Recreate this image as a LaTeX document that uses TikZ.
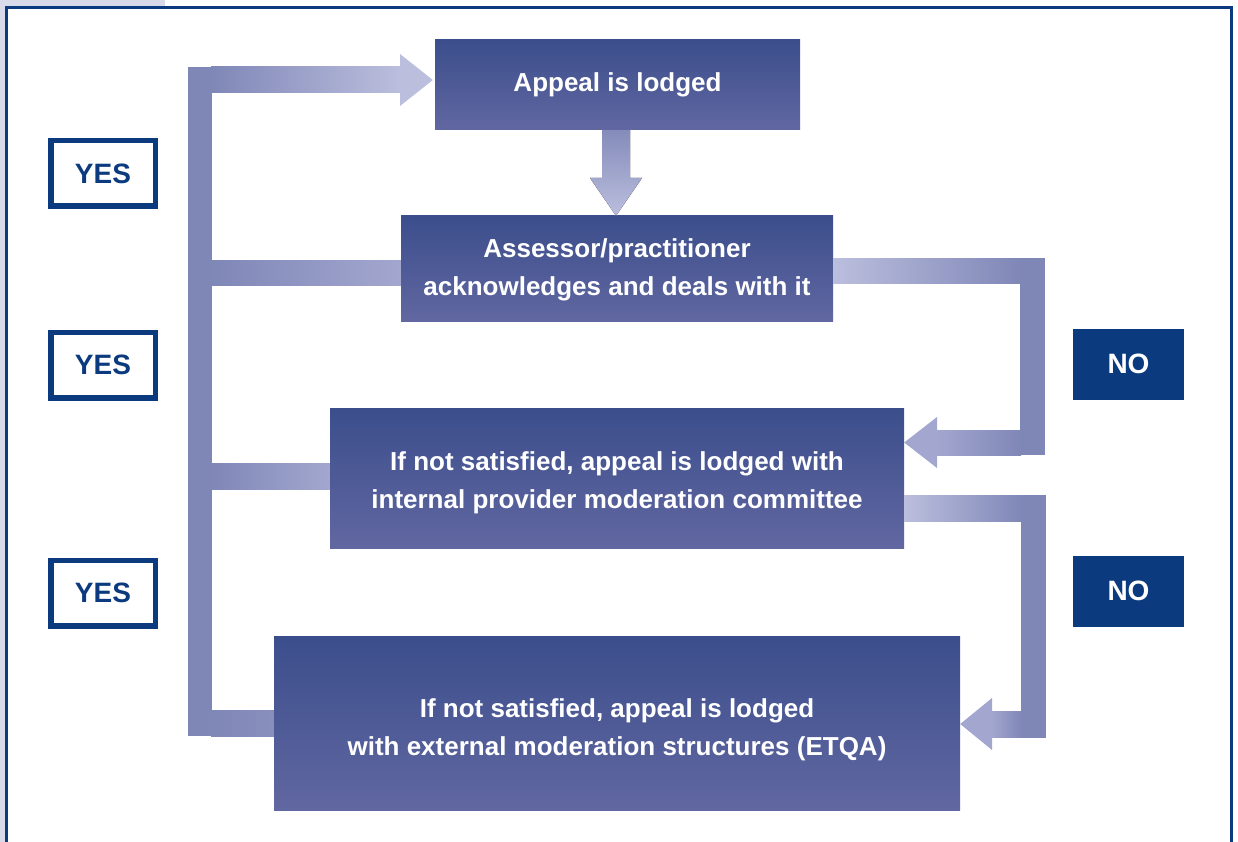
\documentclass[tikz,border=0pt]{standalone}
\usepackage{fontspec}
\setmainfont{Liberation Sans}
\usetikzlibrary{calc}
\definecolor{navy}{HTML}{0B3A7F}
\definecolor{lav}{HTML}{D8DAEA}
\definecolor{boxtop}{HTML}{3B4E8C}
\definecolor{boxbot}{HTML}{6167A1}
\definecolor{ardark}{HTML}{7F87B7}
\definecolor{armid}{HTML}{A3A7CF}
\definecolor{arlight}{HTML}{BBBEDD}
\begin{document}
\begin{tikzpicture}[x=1pt,y=-1pt,
  stage/.style={rectangle, inner sep=0pt, top color=boxtop, bottom color=boxbot,
    text=white, align=center, font=\fontsize{26}{38}\selectfont\bfseries},
  stagetext/.style={inner sep=0pt, text=white, align=center,
    font=\fontsize{26}{38}\selectfont\bfseries},
  yesbox/.style={rectangle, draw=navy, line width=5.5pt, fill=white,
    minimum width=104.5pt, minimum height=65.5pt, text=navy,
    font=\fontsize{28}{30}\selectfont\bfseries},
  nobox/.style={rectangle, fill=navy, minimum width=111pt, minimum height=71pt,
    text=white, font=\fontsize{28}{30}\selectfont\bfseries},
]
\useasboundingbox (0,0) rectangle (1238,842);

% page backdrop and frame
\fill[lav] (0,0) rectangle (165,7);
\fill[lav] (0,0) rectangle (4.5,842);
\draw[navy, line width=3pt] (6,842) -- (6,7.5) -- (1231,7.5) -- (1231,842);

% process stages
\node[stage, minimum width=365pt, minimum height=90pt]  (b1) at (617.5,85)  {Appeal is lodged};
\node[stage, minimum width=432pt, minimum height=105pt] (b2) at (617,268.5) {};
\node[stagetext] (b2t) at (617,269.5) {Assessor/practitioner\\acknowledges and deals with it};
\node[stage, minimum width=574pt, minimum height=140pt] (b3) at (617,478)   {};
\node[stagetext] (b3t) at (617,482.5) {If not satisfied, appeal is lodged with\\internal provider moderation committee};
\node[stage, minimum width=686pt, minimum height=174pt]  (b4) at (617,723)   {};
\node[stagetext] (b4t) at (617,730) {If not satisfied, appeal is lodged\\with external moderation structures (ETQA)};

% decision labels
\node[yesbox] (y1) at (103,173.5) {\raisebox{-1.5pt}{YES}};
\node[yesbox] (y2) at (103,365)   {\raisebox{-1.5pt}{YES}};
\node[yesbox] (y3) at (103,593)   {\raisebox{-1.5pt}{YES}};
\node[nobox]  (n1) at (1128.5,364) {NO};
\node[nobox]  (n2) at (1128.5,591) {NO};

% YES return path on the left
\fill[ardark] (188,67) rectangle (212,736);
\fill[left color=ardark, right color=arlight] (211,67) rectangle (400.5,93);
\fill[arlight] (400,54) -- ($(b1.west |- 0,80)+(-2,0)$) -- (400,106) -- cycle;
\fill[left color=ardark, right color=armid] (211,260) rectangle (b2.west |- 0,285);
\fill[left color=ardark, right color=armid] (211,463) rectangle (b3.west |- 0,489);
\fill[left color=ardark, right color=ardark!75!armid] (211,710) rectangle (b4.west |- 0,736);

% forward arrow from the first stage
\fill[top color=ardark!85!armid, bottom color=arlight]
  (602,0 |- b1.south) -- (630,0 |- b1.south) -- (630,178) -- (642,178)
  -- (616,0 |- b2.north) -- (590,178) -- (602,178) -- cycle;

% NO path from the second stage
\fill[left color=arlight, right color=ardark] (b2.east |- 0,258) rectangle (1021,283);
\fill[ardark] (1020,258) rectangle (1045,455);
\fill[left color=armid, right color=ardark] (936,430) rectangle (1021,455);
\fill[armid] (937,417) -- (b3.east |- 0,442.5) -- (937,468) -- cycle;

% NO path from the third stage
\fill[left color=arlight, right color=ardark] (b3.east |- 0,495) rectangle (1022,521);
\fill[ardark] (1021,495) rectangle (1046,738);
\fill[left color=armid, right color=ardark] (991,711) rectangle (1022,737);
\fill[armid] (992,698) -- (b4.east |- 0,724) -- (992,750) -- cycle;
\end{tikzpicture}
\end{document}
